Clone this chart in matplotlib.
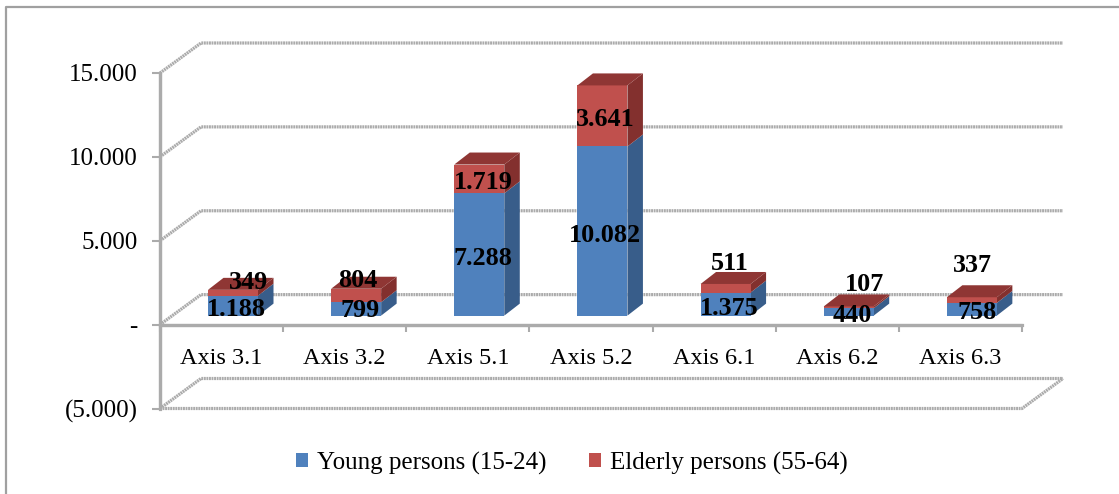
"""Stacked pseudo-3D column chart of young and elderly persons per axis."""

import matplotlib
matplotlib.use('Agg')
import matplotlib.pyplot as plt
from matplotlib.lines import Line2D
from matplotlib.patches import Patch, Polygon, Rectangle

plt.rcParams['font.family'] = ['Liberation Serif', 'DejaVu Serif']

categories = ['Axis 3.1', 'Axis 3.2', 'Axis 5.1', 'Axis 5.2', 'Axis 6.1', 'Axis 6.2', 'Axis 6.3']
young = [1188, 799, 7288, 10082, 1375, 440, 758]
elderly = [349, 804, 1719, 3641, 511, 107, 337]
y_ticks = [-5000, 0, 5000, 10000, 15000]
y_tick_labels = ['(5.000)', '-', '5.000', '10.000', '15.000']

# label nudges in pixels, the chart placed them by hand
young_nudge = [(3, -4), (4, -2), (4, -4), (3, -4), (4, -4), (4, -4), (5, -3)]
elderly_nudge = [(16, 10), (2, 15), (4, -4), (3, -4), (4, 25), (16, 23), (1, 35)]

W, H = 1119, 494
PX_X = (1022 - 160) / 7        # pixels per category
PX_Y = (408.5 - 73) / 20000    # pixels per value unit

GRID = '#ababab'
GRID_WIDTH = 2.3
GRID_STYLE = (0, (0.6, 0.2))
BLUE, BLUE_SIDE = '#4f81bd', '#385d8a'
RED, RED_SIDE, RED_TOP = '#c0504d', '#83302e', '#8f3634'

# floor depth and the bar footprint, in data units
WALL_DX, WALL_DY = 41 / PX_X, 30 / PX_Y
BAR_X0, BAR_W = 48 / PX_X, 50 / PX_X
BAR_LIFT = 9 / PX_Y
SIDE_DX, SIDE_DY = 15.5 / PX_X, 12 / PX_Y


def draw_segment(ax, x, bottom, top, face, side, lid=None):
    base = BAR_LIFT
    ax.add_patch(Polygon(
        [(x + BAR_W, base + bottom), (x + BAR_W + SIDE_DX, base + bottom + SIDE_DY),
         (x + BAR_W + SIDE_DX, base + top + SIDE_DY), (x + BAR_W, base + top)],
        facecolor=side, edgecolor='none', clip_on=False, zorder=3))
    ax.add_patch(Rectangle((x, base + bottom), BAR_W, top - bottom,
                           facecolor=face, edgecolor='none', clip_on=False, zorder=4))
    if lid:
        ax.add_patch(Polygon(
            [(x, base + top), (x + BAR_W, base + top),
             (x + BAR_W + SIDE_DX, base + top + SIDE_DY), (x + SIDE_DX, base + top + SIDE_DY)],
            facecolor=lid, edgecolor='none', clip_on=False, zorder=4))


def put_label(ax, x, mid, value, nudge):
    text = f'{value:,}'.replace(',', '.')
    ax.annotate(text, (x + BAR_W / 2, BAR_LIFT + mid), xytext=(nudge[0], nudge[1]),
                textcoords='offset pixels', ha='center', va='center',
                fontsize=18.8, fontweight='bold', color='black', zorder=6)


fig = plt.figure(figsize=(W / 100, H / 100), dpi=100)

# the chart frame is cropped, only its top and left edges are in the picture
fig.add_artist(Line2D([6 / W, 6 / W, 1], [0, 1 - 7 / H, 1 - 7 / H], transform=fig.transFigure,
                      color='#a0a0a0', linewidth=1.6))

ax = fig.add_axes([160 / W, 1 - 408.5 / H, (1022 - 160) / W, (408.5 - 73) / H])
ax.patch.set_alpha(0)
ax.set_zorder(2)
ax.set_xlim(0, len(categories))
ax.set_ylim(y_ticks[0], y_ticks[-1])

n = len(categories)
for value in y_ticks:
    ax.plot([0, WALL_DX, n + WALL_DX], [value, value + WALL_DY, value + WALL_DY],
            color=GRID, linewidth=GRID_WIDTH, linestyle=GRID_STYLE, clip_on=False, zorder=1)
ax.plot([0, n, n + WALL_DX], [y_ticks[0], y_ticks[0], y_ticks[0] + WALL_DY],
        color=GRID, linewidth=GRID_WIDTH, linestyle=GRID_STYLE, clip_on=False, zorder=1)

for spine in ['top', 'right']:
    ax.spines[spine].set_visible(False)
for spine in ['left', 'bottom']:
    ax.spines[spine].set_color(GRID)
    ax.spines[spine].set_linewidth(GRID_WIDTH)
    ax.spines[spine].set_linestyle(GRID_STYLE)
ax.spines['bottom'].set_position(('data', 0))

ax.set_yticks(y_ticks)
ax.set_yticklabels(y_tick_labels, fontsize=18)
ax.tick_params(axis='y', length=6, width=1.5, color=GRID, pad=10)
ax.set_xticks(range(n + 1))
ax.set_xticklabels([])
ax.set_xticks([i + 0.5 for i in range(n)], minor=True)
ax.set_xticklabels(categories, minor=True, fontsize=17.5)
ax.tick_params(axis='x', which='major', length=5, width=1.5, color=GRID)
ax.tick_params(axis='x', which='minor', length=0, pad=17)

for i in range(n):
    x = i + BAR_X0
    draw_segment(ax, x, 0, young[i], BLUE, BLUE_SIDE)
    draw_segment(ax, x, young[i], young[i] + elderly[i], RED, RED_SIDE, RED_TOP)
    put_label(ax, x, young[i] / 2, young[i], young_nudge[i])
    put_label(ax, x, young[i] + elderly[i] / 2, elderly[i], elderly_nudge[i])

handles = [Patch(facecolor=BLUE, label='Young persons (15-24)'),
           Patch(facecolor=RED, label='Elderly persons (55-64)')]
fig.legend(handles=handles, loc='center', bbox_to_anchor=(572 / W, 1 - 463 / H), ncols=2,
           frameon=False, fontsize=18, handlelength=0.48, handleheight=0.48,
           handletextpad=0.36, columnspacing=1.7)

plt.savefig('out.png', dpi=100)
plt.close()
